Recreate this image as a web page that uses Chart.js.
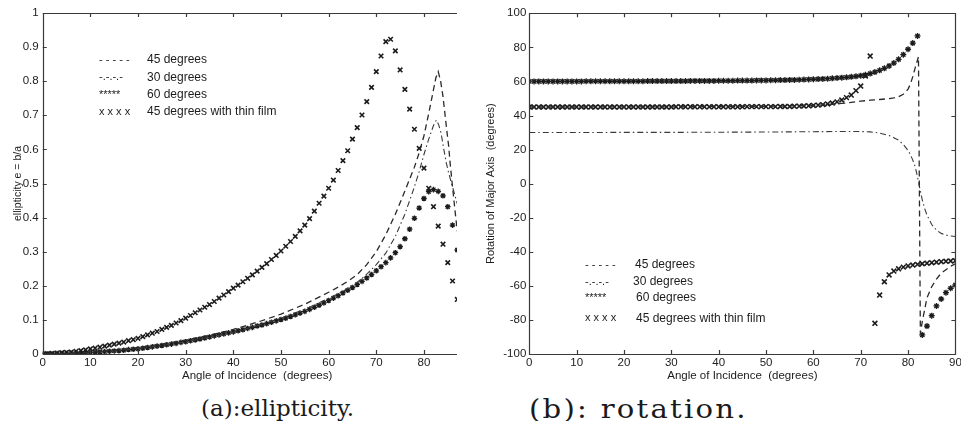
<!DOCTYPE html>
<html>
<head>
<meta charset="utf-8">
<script src="https://cdn.jsdelivr.net/npm/chart.js@4.4.1/dist/chart.umd.min.js"></script>
<style>
  html, body { margin: 0; padding: 0; background: #fff; }
  body { width: 961px; height: 421px; position: relative; overflow: hidden; }
  #wrapA { position: absolute; left: 0; top: 0; width: 457px; height: 392px; overflow: hidden; }
  #chartA { position: absolute; left: 0; top: 0; }
  #chartB { position: absolute; left: 480px; top: 0; }
  .caption { position: absolute; top: 397px; font-family: 'DejaVu Serif', serif; font-size: 23px;
             line-height: 23px; color: #1a1a1a; white-space: pre; }
  #capA { left: 201px; }
  #capB { left: 529px; top: 396px; font-size: 26px; line-height: 26px; letter-spacing: 2px;
          transform: scaleX(1.12); transform-origin: 0 0; }
</style>
</head>
<body>
<div id="wrapA"><canvas id="chartA" width="480" height="392"></canvas></div>
<canvas id="chartB" width="481" height="392"></canvas>
<div class="caption" id="capA">(a):ellipticity.</div>
<div class="caption" id="capB">(b): rotation.</div>
<script>
// ---- shared legend ----
const legendLabels  = ['45 degrees', '30 degrees', '60 degrees', '45 degrees with thin film'];
const legendSamples = ['- - - - -', '-.-.-.-', '*****', 'x x x x'];

// ---- (a) ellipticity ----
const ellXTicks = [0, 10, 20, 30, 40, 50, 60, 70, 80, 90];
const ellYTicks = [0, 0.1, 0.2, 0.3, 0.4, 0.5, 0.6, 0.7, 0.8, 0.9, 1];

const ellAngles = [
  0, 1, 2, 3, 4, 5, 6, 7, 8, 9, 10, 11, 12, 13, 14, 15, 16, 17, 18, 19,
  20, 21, 22, 23, 24, 25, 26, 27, 28, 29, 30, 31, 32, 33, 34, 35, 36, 37, 38, 39,
  40, 41, 42, 43, 44, 45, 46, 47, 48, 49, 50, 51, 52, 53, 54, 55, 56, 57, 58, 59,
  60, 61, 62, 63, 64, 65, 66, 67, 68, 69, 70, 71, 72, 73, 74, 75, 76, 77, 78, 79,
  80, 81, 82, 83, 84, 85, 86, 87
];
// 45 degrees with thin film (x markers)
const ellFilm = [
  0.000, 0.001, 0.002, 0.003, 0.004, 0.005, 0.006, 0.008, 0.010, 0.012,
  0.015, 0.017, 0.020, 0.023, 0.026, 0.029, 0.032, 0.035, 0.039, 0.042,
  0.046, 0.051, 0.056, 0.061, 0.066, 0.072, 0.078, 0.084, 0.091, 0.098,
  0.105, 0.113, 0.121, 0.129, 0.137, 0.145, 0.154, 0.164, 0.173, 0.183,
  0.193, 0.202, 0.212, 0.222, 0.232, 0.243, 0.254, 0.265, 0.277, 0.289,
  0.302, 0.316, 0.330, 0.345, 0.361, 0.378, 0.397, 0.419, 0.442, 0.463,
  0.486, 0.510, 0.538, 0.567, 0.596, 0.630, 0.664, 0.701, 0.740, 0.782,
  0.828, 0.874, 0.916, 0.923, 0.889, 0.833, 0.776, 0.718, 0.659, 0.603,
  0.545, 0.486, 0.432, 0.375, 0.322, 0.268, 0.214, 0.160
];
// 60 degrees (* markers)
const ell60 = [
  0.000, 0.000, 0.000, 0.001, 0.001, 0.001, 0.002, 0.002, 0.003, 0.003,
  0.004, 0.005, 0.006, 0.007, 0.008, 0.009, 0.010, 0.011, 0.013, 0.014,
  0.015, 0.017, 0.019, 0.021, 0.023, 0.025, 0.027, 0.029, 0.031, 0.034,
  0.036, 0.039, 0.041, 0.044, 0.047, 0.050, 0.053, 0.056, 0.059, 0.062,
  0.065, 0.068, 0.071, 0.075, 0.078, 0.082, 0.085, 0.089, 0.093, 0.097,
  0.101, 0.105, 0.110, 0.115, 0.120, 0.125, 0.131, 0.137, 0.143, 0.150,
  0.157, 0.164, 0.171, 0.179, 0.187, 0.195, 0.204, 0.213, 0.223, 0.233,
  0.244, 0.256, 0.268, 0.282, 0.297, 0.315, 0.338, 0.366, 0.398, 0.428,
  0.456, 0.476, 0.482, 0.477, 0.464, 0.432, 0.378, 0.305
];
// 45 degrees (dashed)
const ell45Angles = [0, 5, 10, 15, 20, 25, 30, 35, 40, 45, 50, 55, 58, 60, 62, 64, 66, 68, 70, 72,
  74, 76, 78, 79, 80, 81, 82, 82.5, 83, 83.5, 84, 84.7, 85.2, 85.5, 86, 86.6, 87];
const ell45 = [0, 0.001, 0.005, 0.011, 0.019, 0.029, 0.041, 0.055, 0.072, 0.093, 0.117, 0.146, 0.167,
  0.181, 0.196, 0.213, 0.233, 0.262, 0.300, 0.350, 0.410, 0.478, 0.548, 0.590, 0.640, 0.705, 0.775,
  0.810, 0.828, 0.800, 0.755, 0.667, 0.608, 0.559, 0.490, 0.410, 0.360];
// 30 degrees (dash-dot)
const ell30Angles = [0, 5, 10, 15, 20, 25, 30, 35, 40, 45, 50, 55, 60, 62, 64, 66, 68, 70, 72, 74,
  76, 78, 79, 80, 81, 82, 82.6, 83.1, 83.6, 84.2, 84.7, 85.2, 85.7, 86.2, 86.6, 87];
const ell30 = [0, 0.001, 0.004, 0.009, 0.016, 0.025, 0.036, 0.049, 0.064, 0.083, 0.105, 0.131, 0.163,
  0.177, 0.192, 0.210, 0.234, 0.262, 0.296, 0.345, 0.410, 0.490, 0.535, 0.585, 0.630, 0.670, 0.686,
  0.672, 0.647, 0.598, 0.560, 0.530, 0.505, 0.480, 0.460, 0.440];

// ---- (b) rotation ----
const rotXTicks = [0, 10, 20, 30, 40, 50, 60, 70, 80, 90];
const rotYTicks = [-100, -80, -60, -40, -20, 0, 20, 40, 60, 80, 100];

const rotAngles = [
  0, 1, 2, 3, 4, 5, 6, 7, 8, 9, 10, 11, 12, 13, 14, 15, 16, 17, 18, 19,
  20, 21, 22, 23, 24, 25, 26, 27, 28, 29, 30, 31, 32, 33, 34, 35, 36, 37, 38, 39,
  40, 41, 42, 43, 44, 45, 46, 47, 48, 49, 50, 51, 52, 53, 54, 55, 56, 57, 58, 59,
  60, 61, 62, 63, 64, 65, 66, 67, 68, 69, 70, 71, 72, 73, 74, 75, 76, 77, 78, 79,
  80, 81, 82, 83, 84, 85, 86, 87, 88, 89, 90
];
// 60 degrees (* markers)
const rot60 = [
  60.0, 60.0, 60.0, 60.0, 60.0, 60.0, 60.0, 60.0, 60.0, 60.0,
  60.0, 60.0, 60.1, 60.1, 60.1, 60.1, 60.1, 60.1, 60.1, 60.1,
  60.1, 60.1, 60.1, 60.1, 60.1, 60.2, 60.2, 60.2, 60.2, 60.2,
  60.2, 60.2, 60.2, 60.2, 60.3, 60.3, 60.3, 60.3, 60.3, 60.3,
  60.4, 60.4, 60.4, 60.4, 60.5, 60.5, 60.5, 60.5, 60.6, 60.6,
  60.6, 60.7, 60.7, 60.8, 60.8, 60.9, 60.9, 61.0, 61.1, 61.2,
  61.3, 61.4, 61.5, 61.6, 61.8, 62.0, 62.2, 62.4, 62.7, 63.0,
  63.4, 63.9, 64.6, 65.5, 66.5, 67.7, 69.1, 70.8, 73.0, 75.7,
  78.9, 82.5, 86.7, -88.8, -83.6, -77.5, -71.8, -67.7, -64.0, -61.4,
  -59.5
];
// 45 degrees with thin film (x markers)
const rotFilm = [
  45.0, 45.0, 45.0, 45.0, 45.0, 45.0, 45.0, 45.0, 45.0, 45.0,
  45.0, 45.0, 45.0, 45.0, 45.0, 45.0, 45.0, 45.0, 45.0, 45.0,
  45.0, 45.0, 45.0, 45.0, 45.0, 45.0, 45.0, 45.0, 45.0, 45.0,
  45.0, 45.1, 45.1, 45.1, 45.1, 45.1, 45.1, 45.1, 45.1, 45.1,
  45.1, 45.1, 45.1, 45.1, 45.1, 45.1, 45.2, 45.2, 45.2, 45.2,
  45.2, 45.2, 45.2, 45.3, 45.3, 45.3, 45.4, 45.5, 45.6, 45.7,
  45.9, 46.1, 46.4, 46.8, 47.3, 48.0, 49.1, 50.5, 52.0, 54.6,
  57.3, 63.2, 74.9, -82.0, -65.4, -57.6, -53.6, -51.3, -50.0, -49.0,
  -48.3, -47.8, -47.4, -47.0, -46.7, -46.4, -46.1, -45.8, -45.6, -45.4,
  -45.2
];
// 45 degrees (dashed)
const rot45Angles = [0, 10, 20, 30, 40, 50, 55, 60, 62, 64, 66, 68, 70, 72, 74, 76, 77, 78, 79, 80,
  80.5, 81, 81.5, 82.2, 82.6, 83, 83.5, 84, 85, 86, 87, 88, 89, 90];
const rot45 = [45.0, 45.0, 45.1, 45.1, 45.2, 45.4, 45.6, 45.9, 46.2, 46.6, 47.1, 47.7, 48.4, 49.0,
  49.4, 49.9, 50.3, 51.0, 52.5, 55.5, 58.5, 62.8, 68.0, 74.5, -88.0, -81.0, -74.0, -67.0, -60.5,
  -56.0, -52.5, -50.5, -48.5, -47.0];
// 30 degrees (dash-dot)
const rot30Angles = [0, 10, 20, 30, 40, 50, 60, 65, 70, 72, 74, 76, 77, 78, 79, 80, 80.5, 81, 81.5,
  82, 82.5, 83, 83.5, 84, 85, 86, 87, 88, 89, 90];
const rot30 = [30.0, 30.0, 30.1, 30.1, 30.2, 30.3, 30.5, 30.6, 30.6, 30.4, 29.7, 28.2, 27.0, 25.5,
  23.0, 19.5, 17.0, 13.8, 10.0, 4.0, -3.0, -9.5, -14.5, -18.5, -24.0, -27.3, -29.2, -30.2, -30.7, -31.0];

// ---- look ----
const FONT = "'Liberation Sans', Arial, Helvetica, sans-serif";
const INK = '#1c1c1c';
const AXIS = '#3a3a3a';

const pts = (xs, ys) => xs.map((x, i) => ({ x, y: ys[i] }));

// box round the axes with inward ticks (MATLAB style)
const innerBox = {
  id: 'innerBox',
  afterDatasetsDraw(chart) {
    const { ctx, chartArea: a, scales: { x, y } } = chart;
    const len = 4;
    ctx.save();
    ctx.strokeStyle = AXIS;
    ctx.lineWidth = 1.2;
    ctx.beginPath();
    ctx.rect(Math.round(a.left) + 0.5, Math.round(a.top) + 0.5,
             Math.round(a.right) - Math.round(a.left), Math.round(a.bottom) - Math.round(a.top));
    x.ticks.forEach(t => {
      const px = Math.round(x.getPixelForValue(t.value)) + 0.5;
      ctx.moveTo(px, a.bottom); ctx.lineTo(px, a.bottom - len);
      ctx.moveTo(px, a.top);    ctx.lineTo(px, a.top + len);
    });
    y.ticks.forEach(t => {
      const py = Math.round(y.getPixelForValue(t.value)) + 0.5;
      ctx.moveTo(a.left, py);  ctx.lineTo(a.left + len, py);
      ctx.moveTo(a.right, py); ctx.lineTo(a.right - len, py);
    });
    ctx.stroke();
    ctx.restore();
  }
};

// legend drawn as text lines like the original
const legendText = {
  id: 'legendText',
  afterDraw(chart, args, opts) {
    const ctx = chart.ctx;
    ctx.save();
    ctx.fillStyle = INK;
    ctx.textBaseline = 'middle';
    legendLabels.forEach((label, i) => {
      const y = opts.rows[i];
      ctx.font = '11px ' + FONT;
      ctx.fillText(legendSamples[i], opts.sampleX, y);
      ctx.font = '12px ' + FONT;
      ctx.fillText(label, opts.textX[i], y);
    });
    ctx.restore();
  }
};

function axes(cfg) {
  return {
    x: {
      type: 'linear', min: cfg.xMin, max: cfg.xMax,
      afterBuildTicks: s => { s.ticks = cfg.xTicks.map(v => ({ value: v })); },
      afterFit: s => { s.height = cfg.xHeight; s.paddingLeft = 0; s.paddingRight = 0; },
      grid: { display: false, drawTicks: false },
      border: { display: false },
      ticks: { color: INK, font: { family: FONT, size: 11.5 }, padding: 2, maxRotation: 0, autoSkip: false,
               callback: v => String(v) },
      title: { display: true, text: 'Angle of Incidence  (degrees)', color: INK,
               font: { family: FONT, size: 11.5 }, padding: { top: 0, bottom: 9 } }
    },
    y: {
      type: 'linear', min: cfg.yMin, max: cfg.yMax,
      afterBuildTicks: s => { s.ticks = cfg.yTicks.map(v => ({ value: v })); },
      afterFit: s => { s.width = cfg.yWidth; s.paddingTop = 0; s.paddingBottom = 0; },
      grid: { display: false, drawTicks: false },
      border: { display: false },
      ticks: { color: INK, font: { family: FONT, size: 11.5 }, padding: cfg.yPad, autoSkip: false,
               callback: v => String(v) },
      title: { display: true, text: cfg.yTitle, color: INK,
               font: { family: FONT, size: cfg.yTitleSize }, padding: { top: cfg.yTitleOff, bottom: 0 } }
    }
  };
}

const common = {
  responsive: false,
  animation: false,
  events: [],
  plugins: { legend: { display: false }, tooltip: { enabled: false } }
};

const xMark = { pointStyle: 'crossRot', borderColor: INK, backgroundColor: INK, pointBorderWidth: 1.6, showLine: false };
const starMark = { pointStyle: 'star', borderColor: INK, backgroundColor: INK, pointBorderWidth: 1.3, showLine: false };
const dashed = { showLine: true, pointRadius: 0, borderColor: '#2a2a2a', borderWidth: 1.3, borderDash: [6, 4] };
const dashDot = { showLine: true, pointRadius: 0, borderColor: '#3a3a3a', borderWidth: 1.1, borderDash: [6, 3, 1.5, 3] };

new Chart(document.getElementById('chartA'), {
  type: 'scatter',
  data: {
    datasets: [
      { ...dashed,  data: pts(ell45Angles, ell45) },
      { ...dashDot, data: pts(ell30Angles, ell30) },
      { ...starMark, pointRadius: 2.8, data: pts(ellAngles, ell60) },
      { ...xMark,    pointRadius: 3.2, data: pts(ellAngles, ellFilm) }
    ]
  },
  options: {
    ...common,
    layout: { padding: { left: 0, top: 13, right: 8.4, bottom: 0 } },
    scales: axes({ xMin: 0, xMax: 90, xTicks: ellXTicks, xHeight: 38,
                   yMin: 0, yMax: 1, yTicks: ellYTicks, yWidth: 42.7, yPad: 4,
                   yTitle: 'ellipticity e = b/a', yTitleSize: 10.5, yTitleOff: 11.7 }),
    plugins: { ...common.plugins,
      legendText: { sampleX: 99, textX: [147, 147, 147, 147], rows: [60, 77.3, 95, 111.7] } }
  },
  plugins: [innerBox, legendText]
});

new Chart(document.getElementById('chartB'), {
  type: 'scatter',
  data: {
    datasets: [
      { ...dashed,  data: pts(rot45Angles, rot45) },
      { ...dashDot, data: pts(rot30Angles, rot30) },
      { ...starMark, pointRadius: 3, data: pts(rotAngles, rot60) },
      { ...xMark,    pointRadius: 3.4, data: pts(rotAngles, rotFilm) }
    ]
  },
  options: {
    ...common,
    layout: { padding: { left: 0, top: 13.3, right: 3.4, bottom: 0 } },
    scales: axes({ xMin: 0, xMax: 90, xTicks: rotXTicks, xHeight: 38,
                   yMin: -100, yMax: 100, yTicks: rotYTicks, yWidth: 49.3, yPad: 3,
                   yTitle: 'Rotation of Major Axis  (degrees)', yTitleSize: 11, yTitleOff: 4.4 }),
    plugins: { ...common.plugins,
      legendText: { sampleX: 105, textX: [155, 153, 156, 156], rows: [265, 281.7, 297.7, 318.3] } }
  },
  plugins: [innerBox, legendText]
});
</script>
</body>
</html>
